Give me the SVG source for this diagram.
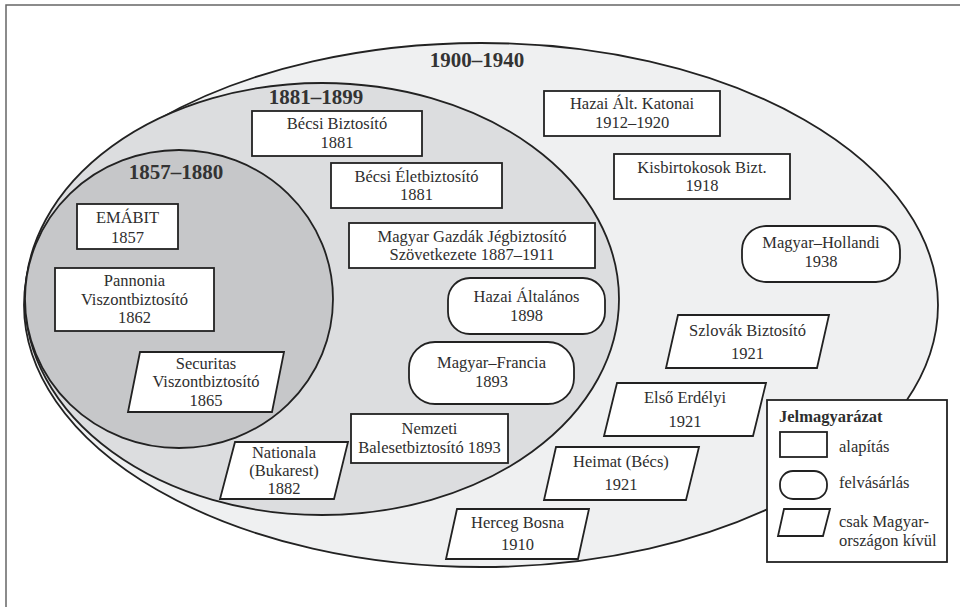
<svg xmlns="http://www.w3.org/2000/svg" width="960" height="607" viewBox="0 0 960 607">
<style>
.t{font-family:"Liberation Serif","Times New Roman",serif;font-size:16.5px;fill:#2e2e2e;text-anchor:middle}
.tl{font-family:"Liberation Serif","Times New Roman",serif;font-size:16.5px;fill:#2e2e2e}
.h{font-family:"Liberation Serif","Times New Roman",serif;font-size:21px;font-weight:bold;fill:#333;text-anchor:middle}
.hb{font-family:"Liberation Serif","Times New Roman",serif;font-size:16.5px;font-weight:bold;fill:#2e2e2e}
.n{fill:#fff;stroke:#222;stroke-width:1.8}
.e{stroke:#222;stroke-width:1.8}
</style>
<rect x="0" y="0" width="960" height="607" fill="#fff"/>
<rect x="6" y="5" width="970" height="620" fill="#fff" stroke="#666" stroke-width="1.5"/>
<g id="era-1900-1940">
<ellipse class="e" cx="481" cy="305" rx="457" ry="262" fill="#eff0f1"/>
<text class="h" x="477" y="67">1900–1940</text>
</g>
<g id="era-1881-1899">
<ellipse class="e" cx="322" cy="299" rx="297" ry="216" fill="#dcdddf"/>
<text class="h" x="316" y="104">1881–1899</text>
</g>
<g id="era-1857-1880">
<ellipse class="e" cx="179" cy="299" rx="154" ry="149" fill="#c6c7c9"/>
<text class="h" x="176" y="179">1857–1880</text>
</g>
<g id="connectors"/>
<g id="emabit"><rect class="n" x="77" y="204" width="101" height="45"/><text class="t" x="127.5" y="223">EMÁBIT</text><text class="t" x="127.5" y="243">1857</text></g>
<g id="pannonia"><rect class="n" x="55" y="268" width="159" height="63"/><text class="t" x="134.5" y="286">Pannonia</text><text class="t" x="134.5" y="305">Viszontbiztosító</text><text class="t" x="134.5" y="323">1862</text></g>
<g id="securitas"><polygon class="n" points="140,352 284,352 272,412 128,412"/><text class="t" x="206" y="369">Securitas</text><text class="t" x="206" y="387">Viszontbiztosító</text><text class="t" x="206" y="406">1865</text></g>
<g id="becsi-biztosito"><rect class="n" x="252" y="111" width="170" height="45"/><text class="t" x="337" y="129">Bécsi Biztosító</text><text class="t" x="337" y="148">1881</text></g>
<g id="becsi-eletbiztosito"><rect class="n" x="331" y="163" width="171" height="45"/><text class="t" x="416.5" y="182">Bécsi Életbiztosító</text><text class="t" x="416.5" y="200">1881</text></g>
<g id="magyar-gazdak"><rect class="n" x="349" y="223" width="246" height="45"/><text class="t" x="472" y="242">Magyar Gazdák Jégbiztosító</text><text class="t" x="472" y="260">Szövetkezete 1887–1911</text></g>
<g id="hazai-altalanos"><rect class="n" x="448" y="278" width="157" height="56" rx="22"/><text class="t" x="526.5" y="302">Hazai Általános</text><text class="t" x="526.5" y="321">1898</text></g>
<g id="magyar-francia"><rect class="n" x="409" y="342" width="165" height="62" rx="26"/><text class="t" x="491.5" y="368">Magyar–Francia</text><text class="t" x="491.5" y="387">1893</text></g>
<g id="nemzeti"><rect class="n" x="351" y="414" width="157" height="49"/><text class="t" x="429.5" y="434">Nemzeti</text><text class="t" x="429.5" y="453">Balesetbiztosító 1893</text></g>
<g id="nationala"><polygon class="n" points="235,442 348,442 334,499 220,499"/><text class="t" x="284" y="458">Nationala</text><text class="t" x="284" y="476">(Bukarest)</text><text class="t" x="284" y="494">1882</text></g>
<g id="hazai-alt-katonai"><rect class="n" x="544" y="91" width="176" height="45"/><text class="t" x="632" y="109">Hazai Ált. Katonai</text><text class="t" x="632" y="128">1912–1920</text></g>
<g id="kisbirtokosok"><rect class="n" x="614" y="154" width="176" height="45"/><text class="t" x="702" y="173">Kisbirtokosok Bizt.</text><text class="t" x="702" y="191">1918</text></g>
<g id="magyar-hollandi"><rect class="n" x="742" y="226" width="158" height="56" rx="24"/><text class="t" x="821" y="248">Magyar–Hollandi</text><text class="t" x="821" y="267">1938</text></g>
<g id="szlovak"><polygon class="n" points="678,315 829,315 817,368 666,368"/><text class="t" x="747.5" y="336">Szlovák Biztosító</text><text class="t" x="747.5" y="359">1921</text></g>
<g id="elso-erdelyi"><polygon class="n" points="617,383 766,383 753,436 604,436"/><text class="t" x="685" y="403">Első Erdélyi</text><text class="t" x="685" y="427">1921</text></g>
<g id="heimat"><polygon class="n" points="556,447 699,447 686,500 544,500"/><text class="t" x="621" y="467">Heimat (Bécs)</text><text class="t" x="621" y="490">1921</text></g>
<g id="herceg-bosna"><polygon class="n" points="457,509 589,509 578,559 446,559"/><text class="t" x="517.5" y="528">Herceg Bosna</text><text class="t" x="517.5" y="550">1910</text></g>
<g id="legend">
<rect x="767" y="400" width="180" height="162" fill="#fff" stroke="#222" stroke-width="1.8"/>
<text class="hb" x="779" y="422">Jelmagyarázat</text>
<rect class="n" x="780" y="432" width="47" height="25"/>
<text class="tl" x="839" y="452">alapítás</text>
<rect class="n" x="780" y="471" width="47" height="28" rx="13"/>
<text class="tl" x="839" y="488">felvásárlás</text>
<polygon class="n" points="784,509 830,509 823,536 778,536"/>
<text class="tl" x="839" y="527">csak Magyar-</text>
<text class="tl" x="839" y="546">országon kívül</text>
</g>
</svg>
